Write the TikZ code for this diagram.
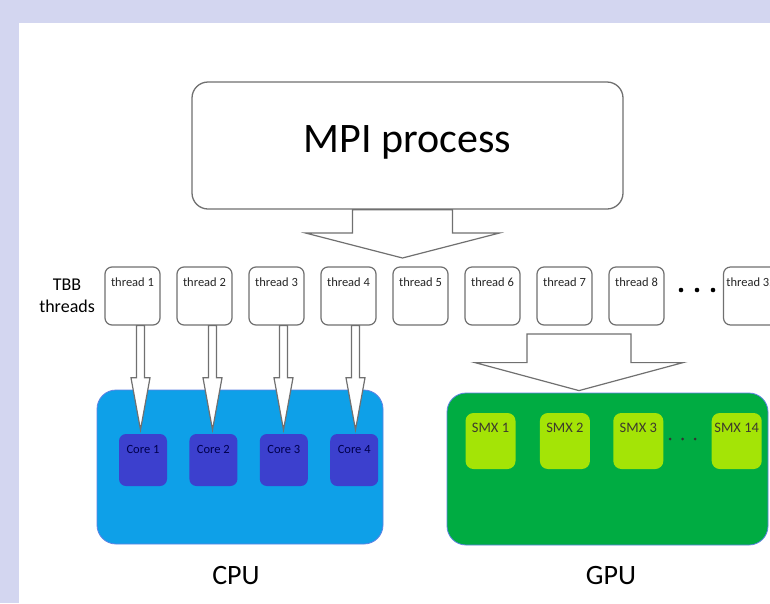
\documentclass[tikz,border=0pt]{standalone}
\usepackage{fontspec}
\setmainfont{Carlito}
\usetikzlibrary{positioning,calc}
\definecolor{pagelav}{RGB}{211,214,240}
\definecolor{cpublue}{RGB}{14,160,232}
\definecolor{coreblue}{RGB}{60,64,206}
\definecolor{gpugreen}{RGB}{0,172,66}
\definecolor{smxlime}{RGB}{164,228,6}
\definecolor{edgegray}{RGB}{112,112,112}
\definecolor{rimblue}{RGB}{96,130,228}
\tikzset{
  process box/.style={
    rectangle, rounded corners=16pt, draw=edgegray, line width=1.3pt,
    fill=white, minimum width=431pt, minimum height=127pt, inner sep=0pt,
    font=\fontsize{42}{42}\selectfont, text height=30pt, text depth=17pt
  },
  thread box/.style={
    rectangle, rounded corners=7pt, draw=edgegray, line width=1.2pt,
    fill=white, minimum width=55pt, minimum height=58pt, inner sep=0pt,
    font=\fontsize{12.5}{12.5}\selectfont, text=black!85,
    text height=8pt, text depth=28pt
  },
  device box/.style={
    rectangle, rounded corners=19pt, line width=0.8pt, inner sep=0pt
  },
  core box/.style={
    rectangle, rounded corners=7pt, fill=coreblue, inner sep=0pt,
    minimum width=48pt, minimum height=52pt,
    font=\fontsize{12.5}{12.5}\selectfont, text=black!70!blue,
    text height=7pt, text depth=21pt
  },
  smx box/.style={
    rectangle, rounded corners=8pt, fill=smxlime, inner sep=0pt,
    minimum width=50pt, minimum height=56pt,
    font=\fontsize{14.5}{14.5}\selectfont, text=black!75!olive,
    text height=9pt, text depth=27pt
  },
  fat arrow/.style={draw=edgegray, line width=1.2pt, fill=white, line join=miter}
}
% hollow block arrow: [options]{from}{to}{shaft half width}{head half width}{head length}
\newcommand{\fatarrow}[6][]{%
  \draw[fat arrow,#1] let \p1=(#2), \p2=(#3) in
    (\x1-#4,\y1) -- (\x1-#4,\y2+#6) -- (\x1-#5,\y2+#6) -- (\x1,\y2)
    -- (\x1+#5,\y2+#6) -- (\x1+#4,\y2+#6) -- (\x1+#4,\y1) -- cycle;
}

\begin{document}
\begin{tikzpicture}[x=1pt,y=-1pt]
  \useasboundingbox (0,0) rectangle (770,603);
  \clip (0,0) rectangle (770,603);
  \fill[pagelav] (0,0) rectangle (770,603);
  \fill[white] (19,23) rectangle (770,603);

  % process and its threads
  \node[process box] (mpi) at (407.5,145.5) {MPI process};

  \begin{scope}[node distance=15.8pt]
    \node[thread box] (t1) at (132.5,296) {thread 1};
    \node[thread box, right=of t1] (t2) {thread 2};
    \node[thread box, right=of t2] (t3) {thread 3};
    \node[thread box, right=of t3] (t4) {thread 4};
    \node[thread box, right=of t4] (t5) {thread 5};
    \node[thread box, right=of t5] (t6) {thread 6};
    \node[thread box, right=of t6] (t7) {thread 7};
    \node[thread box, right=of t7] (t8) {thread 8};
    \node[thread box, right=58.3pt of t8] (t32) {thread 32};
  \end{scope}
  \node[align=center, font=\fontsize{18}{22}\selectfont, left=6pt of t1] (tbb) {TBB\\threads};
  \foreach \dx in {-16,0,16}
    \fill (697+\dx,290) circle (2.3);

  % CPU with four cores
  \node[device box, draw=rimblue, fill=cpublue, minimum width=286pt, minimum height=154pt] (cpu) at (240,467) {};
  \node[core box] (c1) at (143,460) {Core 1};
  \node[core box, right=22pt of c1] (c2) {Core 2};
  \node[core box, right=22pt of c2] (c3) {Core 3};
  \node[core box, right=22pt of c3] (c4) {Core 4};
  \node[anchor=base, font=\fontsize{28}{28}\selectfont] (cpulabel) at (236,584) {CPU};

  % GPU with its SMX units
  \node[device box, draw=rimblue, fill=gpugreen, minimum width=321pt, minimum height=152pt] (gpu) at (607.5,469) {};
  \node[smx box] (s1) at (490.5,441) {SMX 1};
  \node[smx box, right=24pt of s1] (s2) {SMX 2};
  \node[smx box, right=23pt of s2] (s3) {SMX 3};
  \node[smx box, right=48pt of s3] (s14) {SMX 14};
  \foreach \dx in {-12.5,0,12.5}
    \fill[black!80] (682.5+\dx,439) circle (1.5);
  \node[anchor=base, font=\fontsize{28}{28}\selectfont] (gpulabel) at (611,584) {GPU};

  % block arrows
  \coordinate (mpitip) at (402,258);
  \coordinate (gpufeed) at (579,334);
  \fatarrow{[xshift=-5pt]mpi.south}{mpitip}{50pt}{97pt}{25pt}
  \fatarrow{gpufeed}{[yshift=2pt]gpu.north}{52pt}{104pt}{28pt}
  \fatarrow{[xshift=8pt]t1.south}{[yshift=4pt]c1.north}{4pt}{9.5pt}{52pt}
  \fatarrow{[xshift=8pt]t2.south}{[yshift=4pt]c2.north}{4pt}{9.5pt}{52pt}
  \fatarrow{[xshift=7pt]t3.south}{[yshift=4pt]c3.north}{4pt}{9.5pt}{52pt}
  \fatarrow{[xshift=7pt]t4.south}{[yshift=4pt]c4.north}{4pt}{9.5pt}{52pt}
\end{tikzpicture}
\end{document}
